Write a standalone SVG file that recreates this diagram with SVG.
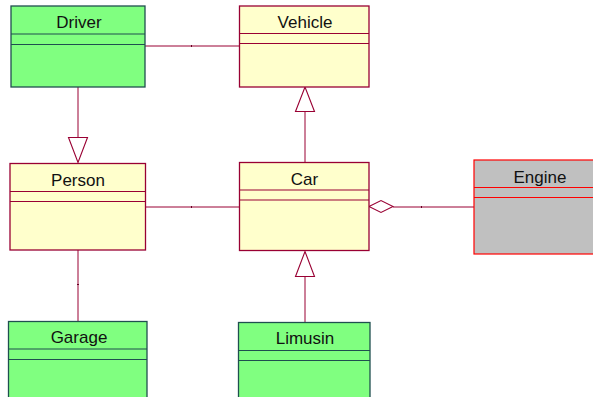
<svg xmlns="http://www.w3.org/2000/svg" width="593" height="397" viewBox="0 0 593 397">
  <style>
    .green { fill: #80ff80; stroke: #1f4f4f; stroke-width: 1.3; }
    .green-div { stroke: #1f4f4f; stroke-width: 1.1; }
    .yellow { fill: #ffffcc; stroke: #990033; stroke-width: 1.3; }
    .yellow-div { stroke: #990033; stroke-width: 1.1; }
    .grey { fill: #c0c0c0; stroke: #ff0000; stroke-width: 1.2; }
    .grey-div { stroke: #ff0000; stroke-width: 1; }
    .name { font-family: "Liberation Sans", Arial, sans-serif; font-size: 17px; fill: #111111; text-anchor: middle; }
    .link { stroke: #990033; stroke-width: 1; fill: none; }
    .head { stroke: #990033; stroke-width: 1.1; fill: #ffffff; }
    .tick { fill: #660022; }
  </style>
  <rect width="593" height="397" fill="#ffffff"/>

  <g id="connectors">
    <!-- Driver — Vehicle association -->
    <line class="link" x1="145" y1="46" x2="239" y2="46"/>
    <rect class="tick" x="191" y="45" width="1" height="2"/>
    <!-- Driver generalizes to Person -->
    <line class="link" x1="78" y1="87" x2="78" y2="137.5"/>
    <polygon class="head" points="68.5,137.5 87.5,137.5 78,162.5"/>
    <!-- Car generalizes to Vehicle -->
    <line class="link" x1="305" y1="162" x2="305" y2="111.5"/>
    <polygon class="head" points="295.5,111.5 314.5,111.5 305,87"/>
    <!-- Person — Car association -->
    <line class="link" x1="146" y1="207" x2="239" y2="207"/>
    <rect class="tick" x="191" y="206" width="1" height="2"/>
    <!-- Car ◇— Engine aggregation -->
    <line class="link" x1="393" y1="207" x2="474" y2="207"/>
    <rect class="tick" x="421" y="206" width="1" height="2"/>
    <polygon class="head" points="369,206.5 381,200.5 393,206.5 381,212.5"/>
    <!-- Person — Garage association -->
    <line class="link" x1="78" y1="250" x2="78" y2="321"/>
    <rect class="tick" x="77" y="284" width="2" height="1"/>
    <!-- Limusin generalizes to Car -->
    <line class="link" x1="305" y1="322" x2="305" y2="276.5"/>
    <polygon class="head" points="295.5,276.5 314.5,276.5 305,251.5"/>
  </g>

  <g id="Driver">
    <rect class="green" x="11" y="6" width="134" height="81"/>
    <line class="green-div" x1="11" y1="34" x2="145" y2="34"/>
    <line class="green-div" x1="11" y1="44.5" x2="145" y2="44.5"/>
    <text class="name" x="79" y="28">Driver</text>
  </g>

  <g id="Vehicle">
    <rect class="yellow" x="239.5" y="6" width="129.5" height="81"/>
    <line class="yellow-div" x1="239.5" y1="33.5" x2="369" y2="33.5"/>
    <line class="yellow-div" x1="239.5" y1="43.5" x2="369" y2="43.5"/>
    <text class="name" x="305" y="28">Vehicle</text>
  </g>

  <g id="Person">
    <rect class="yellow" x="10" y="163.5" width="135.5" height="86.5"/>
    <line class="yellow-div" x1="10" y1="191.5" x2="145.5" y2="191.5"/>
    <line class="yellow-div" x1="10" y1="201.5" x2="145.5" y2="201.5"/>
    <text class="name" x="78" y="186">Person</text>
  </g>

  <g id="Car">
    <rect class="yellow" x="239.5" y="162.5" width="129.5" height="88"/>
    <line class="yellow-div" x1="239.5" y1="190" x2="369" y2="190"/>
    <line class="yellow-div" x1="239.5" y1="200" x2="369" y2="200"/>
    <text class="name" x="304.5" y="185">Car</text>
  </g>

  <g id="Engine">
    <rect class="grey" x="474" y="160" width="132" height="94"/>
    <line class="grey-div" x1="474" y1="187.5" x2="606" y2="187.5"/>
    <line class="grey-div" x1="474" y1="197.5" x2="606" y2="197.5"/>
    <text class="name" x="540" y="182.5">Engine</text>
  </g>

  <g id="Garage">
    <rect class="green" x="8.5" y="321.5" width="138.5" height="88"/>
    <line class="green-div" x1="8.5" y1="349" x2="147" y2="349"/>
    <line class="green-div" x1="8.5" y1="359.5" x2="147" y2="359.5"/>
    <text class="name" x="79" y="343">Garage</text>
  </g>

  <g id="Limusin">
    <rect class="green" x="238.5" y="322.5" width="131.5" height="88"/>
    <line class="green-div" x1="238.5" y1="350.5" x2="370" y2="350.5"/>
    <line class="green-div" x1="238.5" y1="360.5" x2="370" y2="360.5"/>
    <text class="name" x="305" y="344">Limusin</text>
  </g>
</svg>
